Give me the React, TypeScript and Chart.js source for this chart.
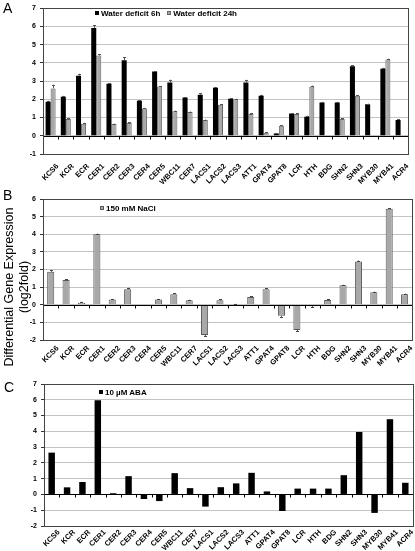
import React, { useEffect, useRef } from "react";
import { Chart, registerables } from "chart.js";
Chart.register(...registerables);

const genes = ["KCS6","KCR","ECR","CER1","CER2","CER3","CER4","CER5","WBC11","CER7","LACS1","LACS2","LACS3","ATT1","GPAT4","GPAT8","LCR","HTH","BDG","SHN2","SHN3","MYB30","MYB41","ACR4"];

const water6h = [1.87, 2.14, 3.3, 5.92, 2.85, 4.15, 1.92, 3.52, 2.93, 2.1, 2.25, 2.63, 2.03, 2.92, 2.2, 0.12, 1.22, 1.05, 1.83, 1.83, 3.82, 1.73, 3.68, 0.87];
const water6hErr = [0.05, 0.05, 0.1, 0.15, 0.05, 0.15, 0.03, 0.03, 0.15, 0.03, 0.1, 0.05, 0.03, 0.15, 0.05, 0.02, 0.03, 0.05, 0.03, 0.03, 0.05, 0.03, 0.05, 0.03];
const water24h = [2.6, 0.92, 0.66, 4.4, 0.65, 0.7, 1.5, 2.7, 1.35, 1.3, 0.86, 1.7, 2.0, 1.2, 0.16, 0.55, 1.2, 2.7, 0, 0.92, 2.2, -0.02, 4.18, -0.05];
const water24hErr = [0.2, 0.03, 0.05, 0.08, 0.02, 0.03, 0.03, 0.03, 0.03, 0.03, 0.03, 0.03, 0.03, 0.05, 0.02, 0.02, 0.03, 0.05, 0, 0.03, 0.03, 0, 0.05, 0];
const nacl = [1.87, 1.4, 0.12, 4.0, 0.3, 0.88, 0, 0.3, 0.6, 0.25, -1.72, 0.25, 0.03, 0.44, 0.88, -0.63, -1.43, -0.08, 0.27, 1.1, 2.46, 0.71, 5.44, 0.6];
const naclErr = [0.08, 0.05, 0.05, 0.03, 0.03, 0.08, 0, 0.03, 0.05, 0.03, 0.05, 0.05, 0.02, 0.06, 0.06, 0.05, 0.05, 0.05, 0.06, 0.03, 0.05, 0.03, 0.03, 0.03];
const aba = [2.65, 0.45, 0.79, 5.97, 0.08, 1.16, -0.29, -0.42, 1.35, 0.4, -0.77, 0.46, 0.7, 1.37, 0.19, -1.05, 0.37, 0.37, 0.37, 1.22, 3.96, -1.17, 4.77, 0.74];

const FONT = "'Liberation Sans', Arial, Helvetica, sans-serif";

const decorPlugin = {
  id: "decor",
  afterDatasetsDraw(chart: any) {
    const ctx = chart.ctx;
    const area = chart.chartArea;
    const y = chart.scales.y;
    // error bars
    chart.data.datasets.forEach((ds: any, i: number) => {
      if (!ds.errors) return;
      const meta = chart.getDatasetMeta(i);
      ctx.save();
      ctx.strokeStyle = ds.errColor || "#333";
      ctx.lineWidth = 1;
      meta.data.forEach((bar: any, j: number) => {
        const e = ds.errors[j];
        if (!e) return;
        const v = ds.data[j];
        const sgn = v < 0 ? -1 : 1;
        const py0 = y.getPixelForValue(v);
        const py1 = y.getPixelForValue(v + sgn * e);
        const cx = Math.round(bar.x) + 0.5;
        ctx.beginPath();
        ctx.moveTo(cx, py0);
        ctx.lineTo(cx, py1);
        ctx.moveTo(cx - 1.5, Math.round(py1) + 0.5);
        ctx.lineTo(cx + 1.5, Math.round(py1) + 0.5);
        ctx.stroke();
      });
      ctx.restore();
    });
    // zero line and category ticks
    const zy = Math.round(y.getPixelForValue(0)) + 0.5;
    ctx.save();
    ctx.strokeStyle = "#000";
    ctx.lineWidth = 1;
    ctx.beginPath();
    ctx.moveTo(area.left, zy);
    ctx.lineTo(area.right, zy);
    const n = chart.data.labels.length;
    const w = (area.right - area.left) / n;
    for (let k = 1; k < n; k++) {
      const tx = Math.round(area.left + k * w) + 0.5;
      ctx.moveTo(tx, zy);
      ctx.lineTo(tx, zy + 3);
    }
    ctx.stroke();
    // frame
    ctx.strokeStyle = "#444";
    ctx.strokeRect(Math.round(area.left) + 0.5, Math.round(area.top) + 0.5, Math.round(area.right - area.left), Math.round(area.bottom - area.top));
    ctx.restore();
  },
};

function makeOptions(min: number, max: number, yWidth: number, xHeight: number, padTop: number, catPct: number, labelPad: number) {
  return {
    responsive: false,
    animation: false,
    layout: { padding: { top: padTop, right: 2, left: 0, bottom: 0 } },
    plugins: { legend: { display: false }, tooltip: { enabled: false } },
    datasets: { bar: { categoryPercentage: catPct, barPercentage: 1 } },
    scales: {
      x: {
        grid: { display: false, drawTicks: false, tickLength: 0 },
        border: { display: false },
        ticks: {
          autoSkip: false,
          maxRotation: 45,
          minRotation: 45,
          padding: labelPad,
          labelOffset: 7,
          color: "#000",
          font: { family: FONT, size: 7.5, weight: "bold" },
        },
        afterFit: (s: any) => { s.height = xHeight; },
      },
      y: {
        min,
        max,
        ticks: { stepSize: 1, padding: 4, color: "#000", font: { family: FONT, size: 7, weight: "bold" } },
        grid: { color: "#c4c4c4", lineWidth: 1, drawTicks: true, tickLength: 3, tickColor: "#333" },
        border: { display: false },
        afterFit: (s: any) => { s.width = yWidth; },
      },
    },
  };
}

function Panel(props: { top: number; height: number; config: any }) {
  const ref = useRef<HTMLCanvasElement | null>(null);
  useEffect(() => {
    if (!ref.current) return;
    const chart = new Chart(ref.current, { ...props.config, plugins: [decorPlugin] });
    return () => chart.destroy();
  }, []);
  return (
    <canvas
      ref={ref}
      width={415}
      height={props.height}
      style={{ position: "absolute", left: 0, top: props.top, width: 415, height: props.height }}
    />
  );
}

const cfgA = {
  type: "bar",
  data: {
    labels: genes,
    datasets: [
      { label: "Water deficit 6h", data: water6h, errors: water6hErr, backgroundColor: "#000", borderWidth: 0, errColor: "#555" },
      { label: "Water deficit 24h", data: water24h, errors: water24hErr, backgroundColor: "#a8a8a8", borderColor: "#666", borderWidth: 1, errColor: "#555" },
    ],
  },
  // chart area: top 5, bottom 154 (canvas height 190)
  options: makeOptions(-1, 7, 43, 36, 5, 0.66, 8),
};

const cfgB = {
  type: "bar",
  data: {
    labels: genes,
    datasets: [
      { label: "150 mM NaCl", data: nacl, errors: naclErr, backgroundColor: "#a8a8a8", borderColor: "#5a5a5a", borderWidth: 1, errColor: "#444" },
    ],
  },
  // canvas top 185, chart area 199..340 (canvas height 185)
  options: makeOptions(-2, 6, 43, 30, 14, 0.46, 4),
};

const cfgC = {
  type: "bar",
  data: {
    labels: genes,
    datasets: [
      { label: "10 µM ABA", data: aba, backgroundColor: "#000", borderWidth: 0 },
    ],
  },
  // canvas top 370, chart area 384..526 (canvas height 181)
  options: makeOptions(-2, 7, 44, 25, 14, 0.42, 2),
};

const legendText: React.CSSProperties = { fontFamily: FONT, fontSize: 8, fontWeight: "bold", color: "#000", whiteSpace: "nowrap" };

function Swatch(props: { fill: string; border?: string }) {
  return (
    <span
      style={{
        display: "inline-block",
        width: 4,
        height: 4,
        background: props.fill,
        border: props.border ? `1px solid ${props.border}` : "none",
        boxSizing: "border-box",
        marginRight: 2,
        verticalAlign: "1px",
      }}
    />
  );
}

export default function App() {
  return (
    <div style={{ position: "absolute", left: 0, top: 0, width: 415, height: 551, background: "#fff", overflow: "hidden" }}>
      <Panel top={0} height={190} config={cfgA} />
      <Panel top={185} height={185} config={cfgB} />
      <Panel top={370} height={181} config={cfgC} />

      <div style={{ position: "absolute", left: 3, top: 0, fontFamily: FONT, fontSize: 14, color: "#000" }}>A</div>
      <div style={{ position: "absolute", left: 3, top: 187, fontFamily: FONT, fontSize: 14, color: "#000" }}>B</div>
      <div style={{ position: "absolute", left: 4, top: 379, fontFamily: FONT, fontSize: 14, color: "#000" }}>C</div>

      <div
        style={{
          position: "absolute",
          left: 17 - 110,
          top: 287 - 15,
          width: 220,
          height: 30,
          transform: "rotate(-90deg)",
          transformOrigin: "50% 50%",
          textAlign: "center",
          fontFamily: FONT,
          fontSize: 12.5,
          lineHeight: "15px",
          color: "#000",
        }}
      >
        <div>Differential Gene Expression</div>
        <div>(log2fold)</div>
      </div>

      <div style={{ position: "absolute", left: 95, top: 9, ...legendText }}>
        <Swatch fill="#000" />Water deficit 6h
        <span style={{ display: "inline-block", width: 7 }} />
        <Swatch fill="#a8a8a8" border="#666" />Water deficit 24h
      </div>
      <div style={{ position: "absolute", left: 100, top: 204, ...legendText }}>
        <Swatch fill="#a8a8a8" border="#5a5a5a" />150 mM NaCl
      </div>
      <div style={{ position: "absolute", left: 99, top: 388, ...legendText }}>
        <Swatch fill="#000" />10 µM ABA
      </div>
    </div>
  );
}
